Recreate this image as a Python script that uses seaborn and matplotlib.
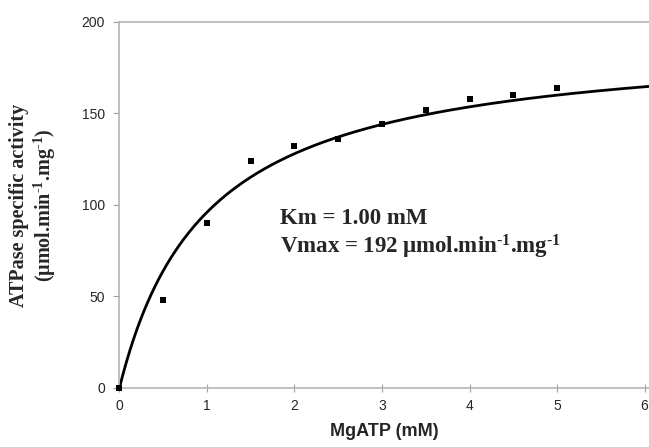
import numpy as np
import pandas as pd
import matplotlib
matplotlib.use("Agg")
import matplotlib.pyplot as plt
import seaborn as sns

# measured points
mgatp = [0, 0.5, 1.0, 1.5, 2.0, 2.5, 3.0, 3.5, 4.0, 4.5, 5.0]
activity = [0, 48, 90, 124, 132, 136, 144, 152, 158, 160, 164]

# Michaelis-Menten fit parameters (as stated on the chart)
km = 1.00
vmax = 192
x_ticks = [0, 1, 2, 3, 4, 5, 6]
y_ticks = [0, 50, 100, 150, 200]

sns.set_style("white")
plt.rcParams['font.family'] = ['Liberation Sans', 'DejaVu Sans']
plt.rcParams['mathtext.fontset'] = 'custom'
plt.rcParams['mathtext.rm'] = 'Liberation Serif:bold'
plt.rcParams['mathtext.bf'] = 'Liberation Serif:bold'
plt.rcParams['mathtext.it'] = 'Liberation Serif:bold'

pts = pd.DataFrame({"mgatp": mgatp, "activity": activity})
xfit = np.linspace(0, 6.05, 300)
fit = pd.DataFrame({"mgatp": xfit, "activity": vmax * xfit / (km + xfit)})

fig = plt.figure(figsize=(6.49, 4.47), dpi=100)
ax = fig.add_axes([0.184, 0.132, 0.816, 0.819])

sns.lineplot(data=fit, x="mgatp", y="activity", ax=ax, color="black", linewidth=2)
sns.scatterplot(data=pts, x="mgatp", y="activity", ax=ax, color="black",
                marker="s", s=14, linewidth=0, zorder=3, clip_on=False)

ax.set_xlim(0, 6.05)
ax.set_ylim(0, 200)
ax.set_xticks(x_ticks)
ax.set_yticks(y_ticks)
ax.tick_params(axis="y", direction="out", length=4.5, width=0.8,
               color="#a0a0a0", labelsize=10, pad=6, left=True)
ax.tick_params(axis="x", direction="inout", length=6, width=0.8,
               color="#a0a0a0", labelsize=10, pad=5, bottom=True)

for side in ["left", "bottom", "top"]:
    ax.spines[side].set_color("#b5b5b5")
    ax.spines[side].set_linewidth(1.2)
ax.spines["right"].set_visible(False)

ax.set_xlabel("MgATP (mM)", fontsize=13, fontweight="bold", labelpad=7)
ax.set_ylabel("")

serif = ['Liberation Serif', 'DejaVu Serif']
fig.text(0.029, 0.54, "ATPase specific activity", rotation=90, ha="center", va="center",
         fontsize=14.5, fontweight="bold", family=serif)
fig.text(0.069, 0.54, r"($\mu$mol.min$^{\text{-}1}$.mg$^{\text{-}1}$)", rotation=90,
         ha="center", va="center", fontsize=14.5, fontweight="bold", family=serif)

ax.text(0.304, 0.463, "Km = 1.00 mM", transform=ax.transAxes, fontsize=16.5,
        fontweight="bold", family=serif, va="center")
ax.text(0.304, 0.385, r"Vmax = 192 $\mu$mol.min$^{\text{-}1}$.mg$^{\text{-}1}$",
        transform=ax.transAxes, fontsize=16.5, fontweight="bold", family=serif, va="center")

fig.savefig("out.png", dpi=100)
